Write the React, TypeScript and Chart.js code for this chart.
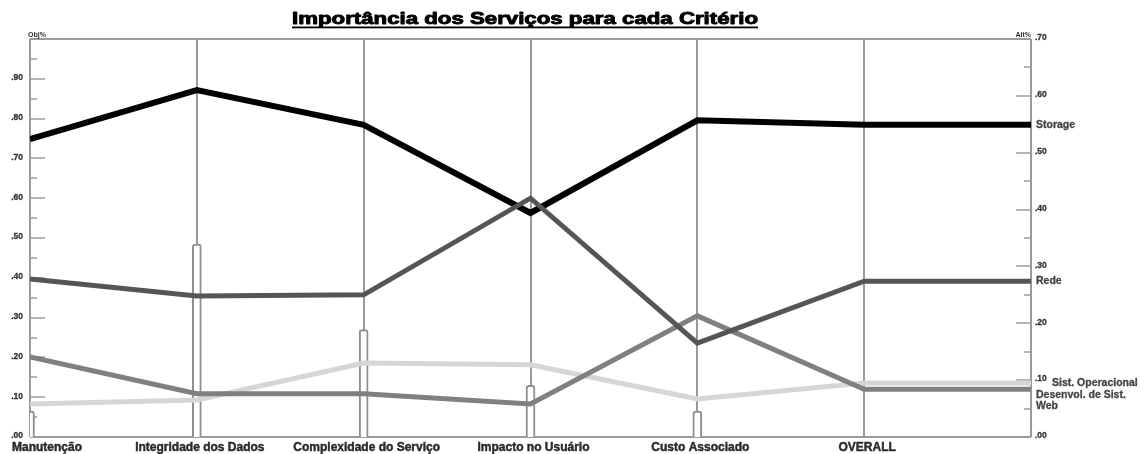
import { useEffect, useRef } from "react";
import { Chart, registerables } from "chart.js";

Chart.register(...registerables);

const TITLE = "Importância dos Serviços para cada Critério";
const categories = [
  "Manutenção",
  "Integridade dos Dados",
  "Complexidade do Serviço",
  "Impacto no Usuário",
  "Custo Associado",
  "OVERALL",
];
// Criterion weights (Obj%, left axis) — one per criterion (not OVERALL)
const criteriaWeights = [0.065, 0.485, 0.27, 0.13, 0.065];
// Alternative priorities (Alt%, right axis)
const storage = [0.524, 0.61, 0.549, 0.394, 0.557, 0.549];
const rede = [0.278, 0.248, 0.25, 0.42, 0.165, 0.274];
const sistOperacional = [0.058, 0.065, 0.13, 0.127, 0.067, 0.095];
const desenvolWeb = [0.141, 0.076, 0.076, 0.058, 0.213, 0.084];
const seriesLabels: string[][] = [["Storage"], ["Rede"], ["Sist. Operacional"], ["Desenvol. de Sist.", "Web"]];

const objTicks = [0, 0.1, 0.2, 0.3, 0.4, 0.5, 0.6, 0.7, 0.8, 0.9];
const objTickLabels = [".00", ".10", ".20", ".30", ".40", ".50", ".60", ".70", ".80", ".90"];
const objMinorTicks = [0.05, 0.15, 0.25, 0.35, 0.45, 0.55, 0.65, 0.75, 0.85, 0.95];
const altTicks = [0, 0.1, 0.2, 0.3, 0.4, 0.5, 0.6, 0.7];
const altTickLabels = [".00", ".10", ".20", ".30", ".40", ".50", ".60", ".70"];
const altMinorTicks = [0.05, 0.15, 0.25, 0.35, 0.45, 0.55, 0.65];
const OBJ_TITLE = "Obj%";
const ALT_TITLE = "Alt%";

const GRID = "#9a9a9a";
const FONT = "'Liberation Sans', Arial, sans-serif";

function lineData(vals: number[]) {
  const pts = vals.map((v, i) => ({ x: i, y: v }));
  pts.push({ x: categories.length, y: vals[vals.length - 1] });
  return pts;
}

function boldText(ctx: CanvasRenderingContext2D, text: string, x: number, y: number, w: number) {
  ctx.fillText(text, x, y);
  ctx.lineWidth = w;
  ctx.strokeStyle = ctx.fillStyle as string;
  ctx.lineJoin = "round";
  ctx.strokeText(text, x, y);
}

const decorPlugin = {
  id: "decor",
  beforeDatasetsDraw(chart: any) {
    const { ctx, chartArea, scales } = chart;
    const { left, right, top, bottom } = chartArea;
    const x = scales.x;
    const y = scales.y;
    const y1 = scales.y1;
    ctx.save();
    ctx.strokeStyle = GRID;
    ctx.lineWidth = 2;
    ctx.beginPath();
    ctx.moveTo(left, top);
    ctx.lineTo(right, top);
    ctx.moveTo(left, bottom);
    ctx.lineTo(right, bottom);
    ctx.moveTo(left, top);
    ctx.lineTo(left, bottom);
    ctx.moveTo(right, top);
    ctx.lineTo(right, bottom);
    categories.forEach((_, i) => {
      const px = Math.round(x.getPixelForValue(i));
      ctx.moveTo(px, top);
      ctx.lineTo(px, bottom);
    });
    ctx.stroke();
    ctx.lineWidth = 1.5;
    ctx.beginPath();
    objTicks.forEach((v) => {
      const py = Math.round(y.getPixelForValue(v));
      ctx.moveTo(left, py);
      ctx.lineTo(left + 15, py);
    });
    objMinorTicks.forEach((v) => {
      const py = Math.round(y.getPixelForValue(v));
      ctx.moveTo(left, py);
      ctx.lineTo(left + 7, py);
    });
    altTicks.forEach((v) => {
      const py = Math.round(y1.getPixelForValue(v));
      ctx.moveTo(right - 15, py);
      ctx.lineTo(right, py);
    });
    altMinorTicks.forEach((v) => {
      const py = Math.round(y1.getPixelForValue(v));
      ctx.moveTo(right - 7, py);
      ctx.lineTo(right, py);
    });
    ctx.stroke();
    ctx.restore();
  },
  afterDraw(chart: any) {
    const { ctx, chartArea, scales } = chart;
    const { left, right, top } = chartArea;
    const x = scales.x;
    const y = scales.y;
    const y1 = scales.y1;
    ctx.save();

    // Title (stretched heavy bold, underlined)
    ctx.font = `bold 16px ${FONT}`;
    ctx.fillStyle = "#000";
    ctx.textBaseline = "alphabetic";
    ctx.textAlign = "left";
    const tw = ctx.measureText(TITLE).width;
    const targetW = 466;
    const sx = targetW / tw;
    const tx = 292;
    ctx.save();
    ctx.translate(tx, 24);
    ctx.scale(sx, 1);
    boldText(ctx, TITLE, 0, 0, 0.9);
    ctx.restore();
    ctx.fillRect(tx, 26.5, targetW, 1.8);

    // axis titles
    ctx.font = `bold 7px ${FONT}`;
    ctx.fillStyle = "#333";
    ctx.textBaseline = "middle";
    ctx.textAlign = "left";
    ctx.fillText(OBJ_TITLE, left - 2, top - 4);
    ctx.textAlign = "right";
    ctx.fillText(ALT_TITLE, right, top - 4);

    // tick labels
    ctx.font = `bold 8.5px ${FONT}`;
    ctx.fillStyle = "#333";
    ctx.textAlign = "right";
    objTicks.forEach((v, i) => {
      boldText(ctx, objTickLabels[i], left - 7, y.getPixelForValue(v) - 1, 0.3);
    });
    ctx.textAlign = "left";
    const altLabelYs: number[] = [];
    altTicks.forEach((v, i) => {
      const py = y1.getPixelForValue(v);
      altLabelYs.push(py);
      boldText(ctx, altTickLabels[i], right + 4, py - 1, 0.3);
    });

    // category labels
    ctx.font = `bold 12px ${FONT}`;
    ctx.fillStyle = "#2a2a2a";
    ctx.textBaseline = "alphabetic";
    ctx.textAlign = "left";
    categories.forEach((c, i) => {
      const w = ctx.measureText(c).width;
      const cx = x.getPixelForValue(i);
      let lx = cx - w / 2 + 3;
      if (lx < 12) lx = 12;
      boldText(ctx, c, lx, 451, 0.45);
    });

    // series labels at right
    const finals = [storage, rede, sistOperacional, desenvolWeb].map((s) => y1.getPixelForValue(s[s.length - 1]));
    const order = finals.map((p, i) => i).sort((a, b) => finals[a] - finals[b]);
    ctx.font = `bold 10.5px ${FONT}`;
    ctx.fillStyle = "#444";
    ctx.textBaseline = "middle";
    let prevBottom = -Infinity;
    order.forEach((idx) => {
      const py = Math.max(finals[idx], prevBottom + 6);
      const lines = seriesLabels[idx];
      lines.forEach((ln, k) => {
        const ly = py + k * 11;
        let lx = right + 5;
        if (altLabelYs.some((ay) => Math.abs(ay - ly) < 5)) lx = right + 21;
        boldText(ctx, ln, lx, ly, 0.3);
      });
      prevBottom = py + (lines.length - 1) * 11 + 6;
    });

    ctx.restore();
  },
};

export default function App() {
  const ref = useRef<HTMLCanvasElement | null>(null);
  useEffect(() => {
    if (!ref.current) return;
    const chart = new Chart(ref.current, {
      type: "line",
      data: {
        datasets: [
          {
            type: "line",
            label: "Rede",
            data: lineData(rede),
            borderColor: "#555555",
            borderWidth: 5,
            pointRadius: 0,
            tension: 0,
            fill: false,
            yAxisID: "y1",
            order: 0,
          },
          {
            type: "line",
            label: "Storage",
            data: lineData(storage),
            borderColor: "#000000",
            borderWidth: 6,
            pointRadius: 0,
            tension: 0,
            fill: false,
            yAxisID: "y1",
            order: 1,
          },
          {
            type: "line",
            label: "Desenvol. de Sist. Web",
            data: lineData(desenvolWeb),
            borderColor: "#808080",
            borderWidth: 5,
            pointRadius: 0,
            tension: 0,
            fill: false,
            yAxisID: "y1",
            order: 2,
          },
          {
            type: "line",
            label: "Sist. Operacional",
            data: lineData(sistOperacional),
            borderColor: "#d6d6d6",
            borderWidth: 5,
            pointRadius: 0,
            tension: 0,
            fill: false,
            yAxisID: "y1",
            order: 3,
          },
          {
            type: "bar",
            label: "Obj%",
            data: criteriaWeights.map((v, i) => ({ x: i, y: v })),
            backgroundColor: "#ffffff",
            borderColor: "#8e8e8e",
            borderWidth: 2,
            borderSkipped: "bottom",
            borderRadius: { topLeft: 3, topRight: 3, bottomLeft: 0, bottomRight: 0 },
            barThickness: 9,
            yAxisID: "y",
            order: 10,
          } as any,
        ],
      },
      options: {
        responsive: false,
        animation: false,
        layout: { padding: { left: 30, right: 113, top: 39, bottom: 17 } },
        plugins: { legend: { display: false }, tooltip: { enabled: false }, title: { display: false } },
        scales: {
          x: { type: "linear", min: 0, max: categories.length, display: false, offset: false },
          y: { type: "linear", min: 0, max: 1.0, display: false },
          y1: { type: "linear", min: 0, max: 0.7, display: false, position: "right" },
        },
      },
      plugins: [decorPlugin],
    });
    return () => chart.destroy();
  }, []);
  return (
    <div style={{ position: "absolute", left: 0, top: 0, width: 1144, height: 454, background: "#fff" }}>
      <canvas ref={ref} width={1144} height={454} style={{ display: "block" }} />
    </div>
  );
}
